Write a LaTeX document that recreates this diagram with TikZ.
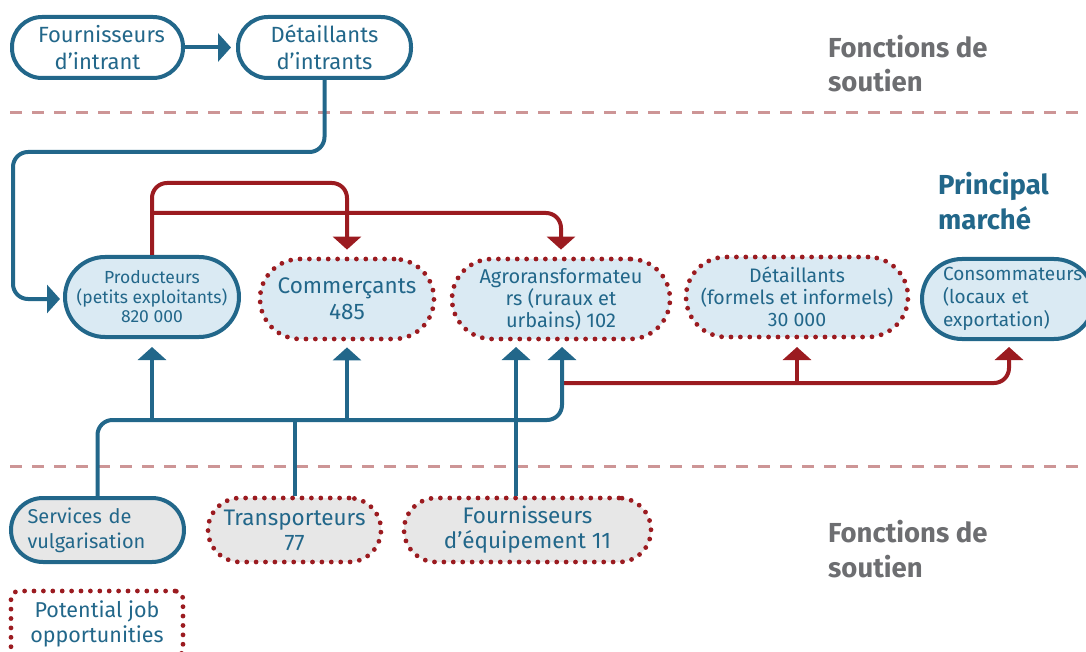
\documentclass[tikz,border=0pt]{standalone}
\usepackage{fontspec}
\setmainfont{Fira Sans}
\usetikzlibrary{arrows.meta}
\definecolor{cblue}{HTML}{22678A}
\definecolor{cred}{HTML}{9B1B20}
\definecolor{lblue}{HTML}{DAEAF3}
\definecolor{lgray}{HTML}{E7E7E7}
\definecolor{cdash}{HTML}{CD9596}
\definecolor{cgray}{HTML}{6D6E71}
\newcommand{\fsz}[2]{\fontsize{#1}{#2}\selectfont}
\tikzset{
  solidbox/.style={draw=cblue, line width=4pt, text=cblue, align=center, inner sep=2pt},
  dotbox/.style={draw=cred, line width=4.8pt, dash pattern=on 0pt off 9.4pt, line cap=round, text=cblue, align=center, inner sep=2pt},
  bluearrow/.style={draw=cblue, line width=4pt, -{Triangle[length=13pt,width=28pt]}},
  redarrow/.style={draw=cred, line width=4pt, -{Triangle[length=13pt,width=28pt]}},
  blueline/.style={draw=cblue, line width=4pt},
  redline/.style={draw=cred, line width=4pt},
  sepline/.style={draw=cdash, line width=3pt, dash pattern=on 12pt off 10pt},
  heading/.style={anchor=north west, align=left, inner sep=0pt, font=\bfseries\fsz{27.5}{34.5}}
}
\begin{document}
\begin{tikzpicture}[x=1pt,y=-1pt]
\useasboundingbox (0,0) rectangle (1086,652);
\clip (0,0) rectangle (1086,652);
% separators
\draw[sepline] (10,113) -- (1086,113);
\draw[sepline] (10,466) -- (1086,466);
% headings
\node[heading, text=cgray] (h1) at (828,35) {Fonctions de\\soutien};
\node[heading, text=cblue] (h2) at (938,172) {Principal\\marché};
\node[heading, text=cgray] (h3) at (828,520) {Fonctions de\\soutien};
% top boxes
\node[solidbox, fill=white, minimum width=171pt, minimum height=61pt, rounded corners=30pt, font=\fsz{22}{27}] (fi) at (97.5,47.5) {\hspace*{8pt}Fournisseurs\\d’intrant};
\node[solidbox, fill=white, minimum width=173pt, minimum height=61pt, rounded corners=30pt, font=\fsz{22}{27}] (di) at (324.5,47.5) {Détaillants\\d’intrants};
% main row
\node[solidbox, fill=lblue, minimum width=174pt, minimum height=80pt, rounded corners=40pt, font=\fsz{17.5}{19.5}] (prod) at (152,297) {Producteurs\\(petits exploitants)\\820 000};
\node[dotbox, fill=lblue, minimum width=174pt, minimum height=80pt, rounded corners=40pt, font=\fsz{22.5}{26}] (comm) at (347,299) {Commerçants\\485};
\node[dotbox, fill=lblue, minimum width=218pt, minimum height=80pt, rounded corners=40pt, font=\fsz{20}{22}] (agro) at (561,299) {Agroransformateu\\rs (ruraux et\\urbains) 102};
\node[dotbox, fill=lblue, minimum width=222pt, minimum height=80pt, rounded corners=40pt, font=\fsz{19.5}{22}] (det) at (797,297) {Détaillants\\(formels et informels)\\30 000};
\node[solidbox, fill=lblue, minimum width=172pt, minimum height=80pt, rounded corners=40pt, font=\fsz{19}{23}, text width=130pt, align=left] (cons) at (1008,299) {Consommateurs\\(locaux et\\exportation)};
% bottom row
\node[solidbox, fill=lgray, minimum width=173pt, minimum height=64pt, rounded corners=32pt, font=\fsz{20}{25}, text width=140pt, align=left] (serv) at (97.5,530) {Services de\\vulgarisation};
\node[dotbox, fill=lgray, minimum width=173pt, minimum height=64pt, rounded corners=32pt, font=\fsz{22.5}{25}] (trans) at (294.5,530) {Transporteurs\\77};
\node[dotbox, fill=lgray, minimum width=247pt, minimum height=64pt, rounded corners=32pt, font=\fsz{22.5}{25}] (feq) at (527.5,530) {Fournisseurs\\d’équipement 11};
\node[dotbox, fill=white, minimum width=172pt, minimum height=66pt, rounded corners=8pt, font=\fsz{21.5}{25}] (pot) at (97,624) {Potential job\\opportunities};
% helper coordinates for connector columns
\coordinate (agroL) at (516,341);
\coordinate (agroR) at (562,341);
\coordinate (consIn) at (1009,341);
% top connectors
\draw[bluearrow, shorten >=5pt] (fi.east) -- (di.west);
\draw[bluearrow, rounded corners=15pt, shorten >=3pt] (di.south) -- (di.south |- 0,152) -- (13,152) -- (13,299) -- (prod.west |- 0,299);
% red from producers
\draw[redarrow, rounded corners=15pt, shorten >=7pt] (prod.north) -- (152,183) -- (347,183) -- (comm.north);
\draw[redarrow, rounded corners=15pt, shorten >=7pt] (152,213) -- (561,213) -- (agro.north);
% red bottom to retail and consumers
\draw[redarrow, rounded corners=15pt, shorten >=6pt] (562,383) -- (1009,383) -- (consIn);
\draw[redarrow, shorten >=6pt] (797,383) -- (det.south |- consIn);
% blue bottom
\draw[bluearrow, rounded corners=15pt, shorten >=6pt] (serv.north) -- (97.5,420) -- (562,420) -- (agroR);
\draw[bluearrow, shorten >=6pt] (152,420) -- (prod.south |- agroR);
\draw[bluearrow, shorten >=6pt] (347,420) -- (comm.south);
\draw[blueline] (trans.north) -- (294.5,420);
\draw[bluearrow, shorten >=6pt] (agroL |- feq.north) -- (agroL);
\end{tikzpicture}
\end{document}
